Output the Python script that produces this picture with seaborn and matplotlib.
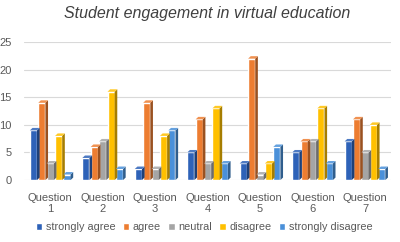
import pandas as pd
import seaborn as sns
import matplotlib.pyplot as plt
from matplotlib.patches import Patch, Polygon
import matplotlib.colors as mcolors

questions = ['Question\n1', 'Question\n2', 'Question\n3', 'Question\n4',
             'Question\n5', 'Question\n6', 'Question\n7']
answers = ['strongly agree', 'agree', 'neutral', 'disagree', 'strongly disagree']
strongly_agree = [9, 4, 2, 5, 3, 5, 7]
agree = [14, 6, 14, 11, 22, 7, 11]
neutral = [3, 7, 2, 3, 1, 7, 5]
disagree = [8, 16, 8, 13, 3, 13, 10]
strongly_disagree = [1, 2, 9, 3, 6, 3, 2]
colors = ['#2E62B8', '#ED7D31', '#A5A5A5', '#FFC000', '#4A90D9']

rows = []
for name, vals in zip(answers, [strongly_agree, agree, neutral, disagree, strongly_disagree]):
    for q, v in zip(questions, vals):
        rows.append({'question': q, 'answer': name, 'count': v})
df = pd.DataFrame(rows)

sns.set_style('white')
plt.rcParams['font.family'] = ['Liberation Sans', 'DejaVu Sans']

fig = plt.figure(figsize=(4, 2.42), dpi=100)
ax = fig.add_axes([0.06, 0.256, 0.918, 0.57])
sns.barplot(data=df, x='question', y='count', hue='answer', hue_order=answers,
            palette=colors, width=0.8, gap=0.15, ax=ax, legend=False,
            saturation=1)

# fake 3d depth faces from each bar
dx, dy = 0.05, 0.45
for bar in ax.patches:
    x0, y0 = bar.get_x(), bar.get_y()
    w, h = bar.get_width(), bar.get_height()
    c = mcolors.to_rgb(bar.get_facecolor())
    dark = tuple(v * 0.65 for v in c)
    light = tuple(min(1, v * 0.85 + 0.15) for v in c)
    side = Polygon([(x0 + w, y0), (x0 + w + dx, y0 + dy), (x0 + w + dx, y0 + h + dy),
                    (x0 + w, y0 + h)], closed=True, facecolor=dark, edgecolor='none')
    top = Polygon([(x0, y0 + h), (x0 + dx, y0 + h + dy), (x0 + w + dx, y0 + h + dy),
                   (x0 + w, y0 + h)], closed=True, facecolor=light, edgecolor='none')
    ax.add_patch(side)
    ax.add_patch(top)

ax.set_ylim(0, 25)
ax.set_xlim(-0.5, 6.5)
ax.set_yticks([0, 5, 10, 15, 20, 25])
ax.yaxis.grid(True, color='#D9D9D9', linewidth=0.8)
ax.set_axisbelow(True)
for s in ax.spines.values():
    s.set_visible(False)
ax.tick_params(axis='both', length=0, labelsize=8, colors='#595959')
ax.tick_params(axis='y', pad=9)
ax.tick_params(axis='x', pad=9)
ax.set_xlabel(None)
ax.set_ylabel(None)

ax.set_title('Student engagement in virtual education', fontsize=11.5,
             style='italic', color='#404040', pad=17)

handles = [Patch(facecolor=c, label=a) for c, a in zip(colors, answers)]
fig.legend(handles=handles, loc='center', bbox_to_anchor=(0.51, 0.06), ncol=5,
           frameon=False, fontsize=7.8, handlelength=0.6, handleheight=0.6,
           handletextpad=0.3, columnspacing=0.7, labelcolor='#595959')

plt.savefig('out.png', dpi=100)
